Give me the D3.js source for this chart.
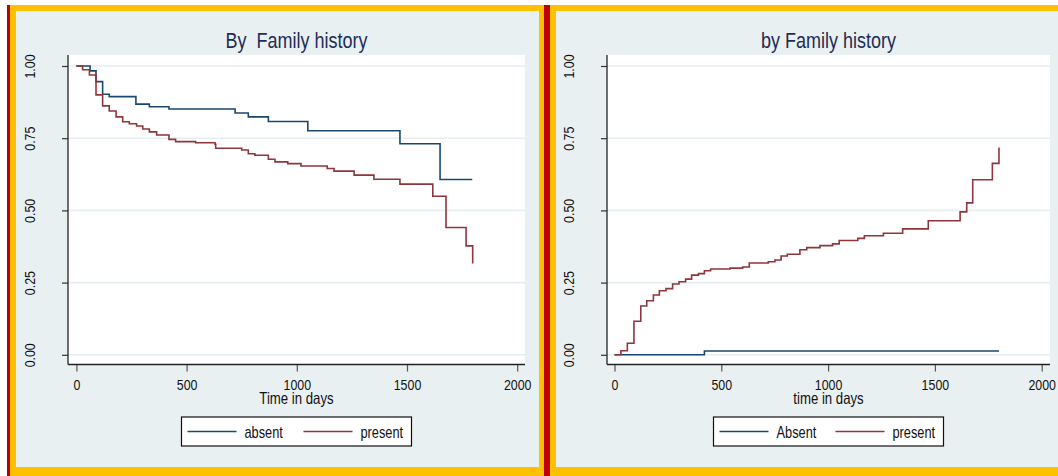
<!DOCTYPE html>
<html>
<head>
<meta charset="utf-8">
<script src="https://cdn.jsdelivr.net/npm/d3@7"></script>
<style>
  html, body { margin: 0; padding: 0; background: #ffffff; }
  svg { display: block; }
  text { font-family: "Liberation Sans", Arial, sans-serif; white-space: pre; }
</style>
</head>
<body>
<svg id="chart" width="1058" height="476"></svg>
<script>
// Kaplan-Meier survival by family history (left panel)
const survAbsentTime = [0, 62, 89, 119, 149, 270, 331, 420, 720, 780, 871, 1050, 1468, 1650, 1796];
const survAbsentValue = [1, 0.983, 0.946, 0.902, 0.894, 0.868, 0.859, 0.851, 0.837, 0.824, 0.808, 0.776, 0.731, 0.607, 0.607];

const survPresentTime = [0, 28, 59, 89, 119, 149, 180, 210, 240, 273, 301, 331, 364, 420, 450, 541, 629, 632, 750, 780, 810, 871, 901, 959, 1019, 1138, 1169, 1260, 1350, 1468, 1617, 1677, 1768, 1798];
const survPresentValue = [1, 0.987, 0.969, 0.9, 0.862, 0.844, 0.824, 0.807, 0.80, 0.792, 0.782, 0.772, 0.761, 0.746, 0.738, 0.734, 0.729, 0.715, 0.709, 0.696, 0.691, 0.677, 0.668, 0.662, 0.654, 0.645, 0.636, 0.622, 0.608, 0.591, 0.549, 0.441, 0.377, 0.316];

// Cumulative incidence by family history (right panel)
const incAbsentTime = [0, 421, 1800];
const incAbsentValue = [0, 0.013, 0.013];

const incPresentTime = [0, 30, 60, 91, 123, 151, 182, 210, 241, 272, 302, 333, 361, 393, 421, 450, 541, 600, 631, 720, 751, 780, 809, 868, 900, 962, 1021, 1052, 1139, 1170, 1259, 1349, 1469, 1618, 1649, 1677, 1769, 1800];
const incPresentValue = [0, 0.014, 0.04, 0.116, 0.169, 0.187, 0.207, 0.222, 0.229, 0.245, 0.253, 0.262, 0.276, 0.281, 0.291, 0.297, 0.30, 0.304, 0.318, 0.322, 0.328, 0.342, 0.348, 0.364, 0.371, 0.378, 0.384, 0.396, 0.403, 0.412, 0.421, 0.436, 0.464, 0.495, 0.526, 0.606, 0.663, 0.718];

const xTicks = [0, 500, 1000, 1500, 2000];
const yTicks = [0, 0.25, 0.5, 0.75, 1];
const yTickLabels = ["0.00", "0.25", "0.50", "0.75", "1.00"];

const titles = ["By  Family history", "by Family history"];
const xTitles = ["Time in days", "time in days"];
const legendLabels = [["absent", "present"], ["Absent", "present"]];

const colAbsent = "#1a476f";
const colPresent = "#90353b";
const regionBg = "#e9f0f2";
const frameYellow = "#ffc000";
const frameRed = "#c00000";

// all text is set in a tall, narrow face
const squeeze = 0.8;

const svg = d3.select("#chart");

// outer frame: yellow border with red rules
svg.append("rect").attr("x", 10).attr("y", 5).attr("width", 1048).attr("height", 471).attr("fill", frameYellow);
svg.append("rect").attr("x", 16).attr("y", 11).attr("width", 523).attr("height", 456).attr("fill", regionBg);
svg.append("rect").attr("x", 556).attr("y", 11).attr("width", 502).attr("height", 456).attr("fill", regionBg);
svg.append("rect").attr("x", 7).attr("y", 5).attr("width", 3).attr("height", 471).attr("fill", frameRed);
svg.append("rect").attr("x", 544).attr("y", 5).attr("width", 6).attr("height", 471).attr("fill", frameRed);

function label(parent, x, y, str, size, anchor, fill) {
  return parent.append("text")
    .attr("transform", `translate(${x},${y}) scale(${squeeze},1)`)
    .attr("text-anchor", anchor)
    .attr("fill", fill)
    .style("font-size", size + "px")
    .text(str);
}

const panels = [
  {
    plot: { left: 68, right: 525, top: 55, bottom: 364.5 },
    xRange: [76.4, 517.2],
    series: [
      { t: survAbsentTime, v: survAbsentValue, color: colAbsent },
      { t: survPresentTime, v: survPresentValue, color: colPresent }
    ]
  },
  {
    plot: { left: 607, right: 1050, top: 55, bottom: 364.5 },
    xRange: [614.5, 1041.7],
    series: [
      { t: incAbsentTime, v: incAbsentValue, color: colAbsent },
      { t: incPresentTime, v: incPresentValue, color: colPresent }
    ]
  }
];

panels.forEach((p, i) => {
  const g = svg.append("g");
  const x = d3.scaleLinear().domain([0, 2000]).range(p.xRange);
  const y = d3.scaleLinear().domain([0, 1]).range([354.8, 66]);
  const cx = (p.plot.left + p.plot.right) / 2;

  // plot region
  g.append("rect")
    .attr("x", p.plot.left).attr("y", p.plot.top)
    .attr("width", p.plot.right - p.plot.left)
    .attr("height", p.plot.bottom - p.plot.top)
    .attr("fill", "#ffffff");

  // horizontal gridlines
  g.selectAll(".grid").data(yTicks).enter().append("line")
    .attr("x1", p.plot.left).attr("x2", p.plot.right)
    .attr("y1", d => y(d)).attr("y2", d => y(d))
    .attr("stroke", "#e6eef1").attr("stroke-width", 1.6);

  // step curves
  const line = d3.line().curve(d3.curveStepAfter).x(d => x(d[0])).y(d => y(d[1]));
  p.series.forEach(s => {
    const pts = s.t.map((t, k) => [t, s.v[k]]);
    g.append("path").datum(pts)
      .attr("d", line)
      .attr("fill", "none")
      .attr("stroke", s.color)
      .attr("stroke-width", 1.6)
      .attr("stroke-linejoin", "miter");
  });

  // y axis
  const yAxis = d3.axisLeft(y).tickValues(yTicks).tickSize(6).tickFormat((d, k) => yTickLabels[k]);
  const ya = g.append("g").attr("transform", `translate(${p.plot.left},0)`).call(yAxis);
  ya.select(".domain").remove();
  ya.append("line").attr("x1", 0).attr("x2", 0).attr("y1", p.plot.top).attr("y2", p.plot.bottom)
    .attr("stroke", "#222").attr("stroke-width", 1.3);
  ya.selectAll(".tick line").attr("stroke", "#333").attr("stroke-width", 1.2);
  ya.selectAll(".tick text")
    .attr("x", null).attr("dy", null)
    .attr("transform", `translate(-33,0) rotate(-90) scale(${squeeze},1)`)
    .attr("text-anchor", "middle")
    .attr("fill", "#111")
    .style("font-size", "15.5px");

  // x axis
  const xAxis = d3.axisBottom(x).tickValues(xTicks).tickSize(7).tickFormat(d3.format("d"));
  const xa = g.append("g").attr("transform", `translate(0,${p.plot.bottom})`).call(xAxis);
  xa.select(".domain").remove();
  xa.append("line").attr("x1", p.plot.left).attr("x2", p.plot.right).attr("y1", 0).attr("y2", 0)
    .attr("stroke", "#222").attr("stroke-width", 1.3);
  xa.selectAll(".tick line").attr("stroke", "#555").attr("stroke-width", 1.2);
  xa.selectAll(".tick text")
    .attr("y", null).attr("dy", null)
    .attr("transform", `translate(0,25) scale(${squeeze},1)`)
    .attr("fill", "#111")
    .style("font-size", "15.5px");

  // axis title
  label(g, cx, 403.5, xTitles[i], 16.5, "middle", "#111");

  // panel title
  label(g, cx, 48, titles[i], 22.5, "middle", "#1e2d55");

  // legend
  const lg = g.append("g");
  const lw = 230, lh = 29, lx = cx - lw / 2, ly = 417;
  lg.append("rect").attr("x", lx).attr("y", ly).attr("width", lw).attr("height", lh)
    .attr("fill", "#ffffff").attr("stroke", "#111").attr("stroke-width", 1.2);
  const items = [
    { off: 6, color: colAbsent, label: legendLabels[i][0] },
    { off: 122, color: colPresent, label: legendLabels[i][1] }
  ];
  items.forEach(it => {
    lg.append("line")
      .attr("x1", lx + it.off).attr("x2", lx + it.off + 49)
      .attr("y1", ly + lh / 2).attr("y2", ly + lh / 2)
      .attr("stroke", it.color).attr("stroke-width", 1.6);
    label(lg, lx + it.off + 57, ly + 21, it.label, 16, "start", "#111");
  });
});
</script>
</body>
</html>
